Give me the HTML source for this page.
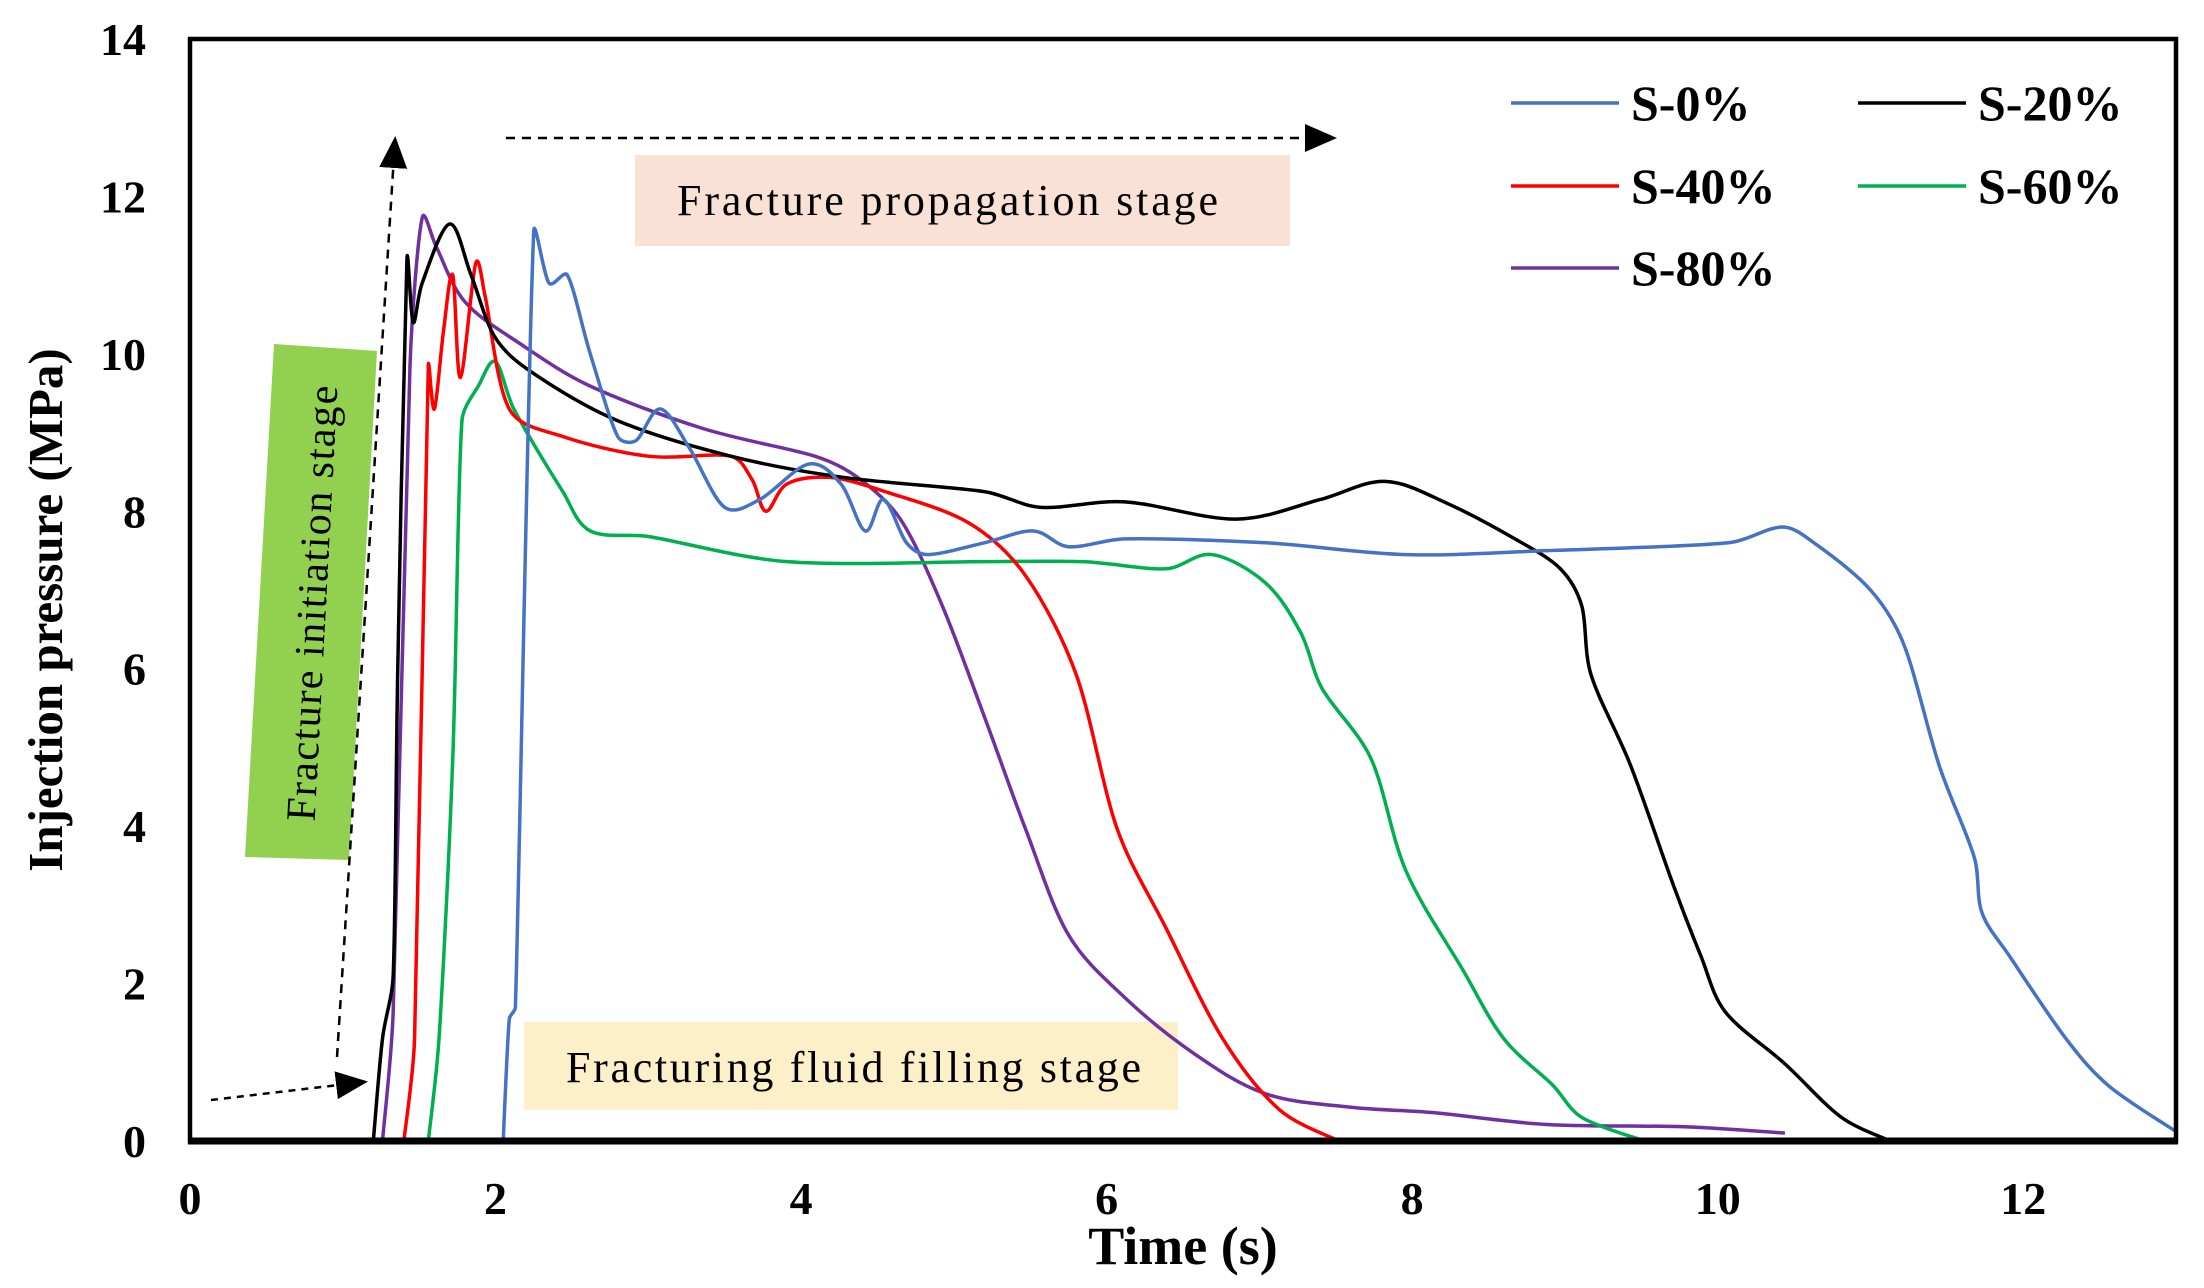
<!DOCTYPE html>
<html><head><meta charset="utf-8"><style>
html,body{margin:0;padding:0;background:#fff;}
svg{display:block;font-family:"Liberation Serif",serif;}
</style></head><body>
<svg id="chart" width="2204" height="1288" viewBox="0 0 2204 1288" xmlns="http://www.w3.org/2000/svg">
<defs><marker id="ah" markerWidth="32" markerHeight="32" refX="28" refY="14" orient="auto" markerUnits="userSpaceOnUse" viewBox="0 0 32 28"><path d="M0,0 L32,14 L0,28 z" fill="#000"/></marker></defs>
<g id="annot">
<rect x="635" y="155" width="655" height="91" fill="#f9e1d5"/>
<text x="677" y="215" font-size="44" textLength="541">Fracture propagation stage</text>
<rect x="524" y="1022" width="654" height="88" fill="#fdf0c9"/>
<text x="566" y="1082" font-size="44" textLength="575">Fracturing  fluid  filling  stage</text>
<polygon points="274,344 377,351 349,860 245,857" fill="#92d050"/>
<text transform="translate(326,604) rotate(-87)" text-anchor="middle" font-size="42" textLength="436">Fracture initiation  stage</text>
<line x1="506" y1="138" x2="1333" y2="138" stroke="#000" stroke-width="2.5" stroke-dasharray="9,7" marker-end="url(#ah)"/>
<line x1="337" y1="1057" x2="395" y2="140" stroke="#000" stroke-width="2.5" stroke-dasharray="9,7" marker-end="url(#ah)"/>
<line x1="211" y1="1100" x2="364" y2="1082" stroke="#000" stroke-width="2.5" stroke-dasharray="7,6" marker-end="url(#ah)"/>
</g>
<g id="series"></g>
<rect x="190" y="39" width="1986" height="1102" fill="none" stroke="#000" stroke-width="4.5"/>
<line x1="188" y1="1141" x2="2178" y2="1141" stroke="#000" stroke-width="7"/>
<g id="ticks" font-weight="bold" font-size="46"></g>
<text x="1183" y="1264" text-anchor="middle" font-size="54" font-weight="bold">Time (s)</text>
<text transform="translate(62,610) rotate(-90)" text-anchor="middle" font-size="49" font-weight="bold">Injection pressure (MPa)</text>
<g id="legend" font-weight="bold" font-size="50"></g>
</svg>
<script>
const xTicks=[0,2,4,6,8,10,12];
const yTicks=[0,2,4,6,8,10,12,14];
const seriesNames=["S-0%","S-20%","S-40%","S-60%","S-80%"];
const seriesColors=["#4472c4","#000000","#ff0000","#00b050","#7030a0"];
const s0x=[2.05,2.09,2.13,2.25,2.35,2.47,2.62,2.8,2.92,3.08,3.27,3.5,3.73,4.05,4.26,4.42,4.54,4.69,4.83,5.2,5.52,5.75,6.12,7.04,7.96,8.88,10.07,10.42,10.63,11.0,11.22,11.45,11.68,11.73,11.91,12.28,12.56,13.0];
const s0y=[0,1.55,1.7,11.55,10.9,11.0,10.0,8.95,8.9,9.3,8.8,8.05,8.15,8.6,8.35,7.75,8.15,7.6,7.45,7.6,7.75,7.55,7.65,7.6,7.45,7.5,7.6,7.8,7.6,7.0,6.3,4.77,3.6,2.9,2.35,1.3,0.7,0.12];
const s20x=[1.2,1.26,1.33,1.36,1.42,1.46,1.52,1.7,1.84,2.0,2.25,2.8,3.54,4.28,5.2,5.57,6.12,6.85,7.4,7.82,8.23,8.69,8.97,9.11,9.17,9.43,9.71,9.89,10.05,10.44,10.81,11.13];
const s20y=[0,1.3,2.1,6.0,11.2,10.4,10.9,11.65,11.0,10.2,9.75,9.15,8.7,8.43,8.25,8.05,8.12,7.9,8.15,8.38,8.1,7.63,7.27,6.8,5.93,4.77,3.25,2.35,1.64,0.98,0.3,0];
const s40x=[1.4,1.47,1.56,1.6,1.66,1.72,1.77,1.87,1.93,2.09,2.44,3.0,3.54,3.68,3.77,3.91,4.19,4.55,5.1,5.47,5.8,6.07,6.39,6.76,7.13,7.52];
const s40y=[0,1.3,9.85,9.3,10.3,11.0,9.7,11.15,10.75,9.3,8.95,8.7,8.7,8.4,8.0,8.35,8.43,8.25,7.85,7.18,5.93,3.96,2.7,1.3,0.4,0];
const s60x=[1.56,1.63,1.72,1.78,1.89,2.0,2.12,2.44,2.62,3.0,3.91,5.2,5.84,6.39,6.69,7.04,7.27,7.41,7.73,7.96,8.33,8.6,8.92,9.11,9.52];
const s60y=[0,1.3,4.86,9.15,9.6,9.9,9.3,8.25,7.75,7.68,7.36,7.36,7.36,7.27,7.45,7.09,6.46,5.75,4.86,3.43,2.18,1.3,0.71,0.3,0];
const s80x=[1.26,1.33,1.44,1.52,1.61,1.8,2.16,2.62,3.36,4.09,4.37,4.65,4.92,5.2,5.47,5.75,6.12,6.58,7.04,7.59,8.14,8.88,9.8,10.44];
const s80y=[0,1.64,9.85,11.73,11.37,10.66,10.13,9.59,9.05,8.7,8.43,7.9,6.82,5.39,3.96,2.62,1.82,1.1,0.6,0.43,0.36,0.21,0.18,0.1];
const allX=[s0x,s20x,s40x,s60x,s80x], allY=[s0y,s20y,s40y,s60y,s80y];
const X0=190,X1=2176,Y0=1141,Y1=39;
const sx=v=>X0+(X1-X0)*v/13, sy=v=>Y0-(Y0-Y1)*v/14;
const NS="http://www.w3.org/2000/svg";
function clampH(dx,dy,len){const l=Math.hypot(dx,dy);const m=0.35*len;if(l>m&&l>0){return [dx*m/l,dy*m/l];}return [dx,dy];}
function path(xs,ys){const p=xs.map((x,i)=>[sx(x),sy(ys[i])]);let d="M"+p[0][0]+","+p[0][1];
for(let i=0;i<p.length-1;i++){const a=p[i-1]||p[i],b=p[i],c=p[i+1],e=p[i+2]||c;
const len=Math.hypot(c[0]-b[0],c[1]-b[1]);
const h1=clampH((c[0]-a[0])/6,(c[1]-a[1])/6,len),h2=clampH((e[0]-b[0])/6,(e[1]-b[1])/6,len);
d+=` C${b[0]+h1[0]},${b[1]+h1[1]} ${c[0]-h2[0]},${c[1]-h2[1]} ${c[0]},${c[1]}`;}return d;}
const g=document.getElementById("series");
[4,3,2,1,0].forEach(i=>{const el=document.createElementNS(NS,"path");
el.setAttribute("d",path(allX[i],allY[i]));el.setAttribute("fill","none");el.setAttribute("stroke",seriesColors[i]);el.setAttribute("stroke-width","3.5");el.setAttribute("stroke-linejoin","round");


g.appendChild(el);});
const t=document.getElementById("ticks");
xTicks.forEach(v=>{const el=document.createElementNS(NS,"text");el.setAttribute("x",sx(v));el.setAttribute("y",1214);el.setAttribute("text-anchor","middle");el.textContent=v;


t.appendChild(el);});
yTicks.forEach(v=>{const el=document.createElementNS(NS,"text");el.setAttribute("x",146);el.setAttribute("y",sy(v)+16);el.setAttribute("text-anchor","end");el.textContent=v;


t.appendChild(el);});
const lg=document.getElementById("legend");
const pos=[[1511,103],[1858,103],[1511,186],[1858,186],[1511,268]];
seriesNames.forEach((n,i)=>{const [x,y]=pos[i];
const l=document.createElementNS(NS,"line");l.setAttribute("x1",x);l.setAttribute("x2",x+108);l.setAttribute("y1",y);l.setAttribute("y2",y);l.setAttribute("stroke",seriesColors[i]);l.setAttribute("stroke-width","3.5");


lg.appendChild(l);
const tx=document.createElementNS(NS,"text");tx.setAttribute("x",x+120);tx.setAttribute("y",y+17);tx.textContent=n;


lg.appendChild(tx);});
</script>
</body></html>
